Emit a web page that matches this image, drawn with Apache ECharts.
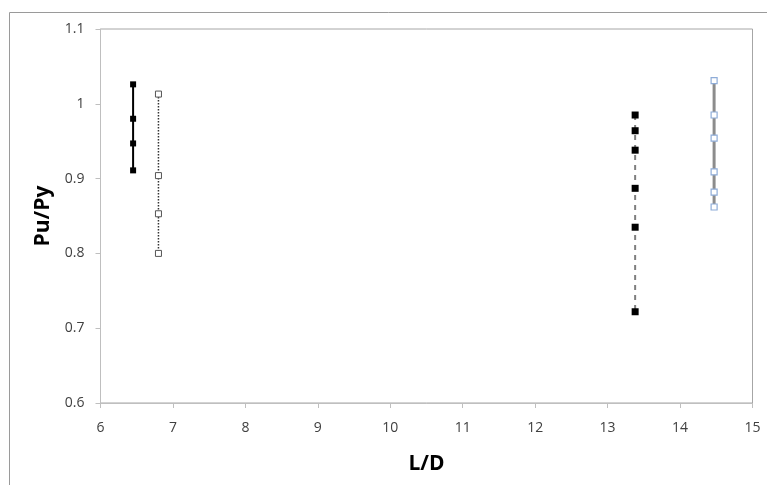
<!DOCTYPE html>
<html>
<head>
<meta charset="utf-8">
<script src="https://cdn.jsdelivr.net/npm/echarts@6/dist/echarts.min.js"></script>
<style>
  html, body { margin: 0; padding: 0; background: #ffffff; }
  #chart { width: 767px; height: 485px; }
</style>
</head>
<body>
<div id="chart"></div>
<script>
// L/D positions and Pu/Py values for each specimen group
const groupAX = 6.45;
const groupAY = [1.026, 0.980, 0.947, 0.911];

const groupBX = 6.80;
const groupBY = [1.013, 0.904, 0.853, 0.800];

const groupCX = 13.38;
const groupCY = [0.985, 0.964, 0.938, 0.887, 0.835, 0.722];

const groupDX = 14.47;
const groupDY = [1.031, 0.985, 0.954, 0.909, 0.882, 0.862];

const xTicks = [6, 7, 8, 9, 10, 11, 12, 13, 14, 15];
const yTicks = [0.6, 0.7, 0.8, 0.9, 1.0, 1.1];

function pairs(x, ys) { return ys.map(v => [x, v]); }

const labelFont = 'Open Sans, "Liberation Sans", sans-serif';
const axisGray = '#bfbfbf';

const chart = echarts.init(document.getElementById('chart'), null, { renderer: 'canvas' });

chart.setOption({
  animation: false,
  backgroundColor: '#ffffff',
  grid: {
    left: 100.5, right: 14.5, top: 29, bottom: 82,
    show: true, borderColor: '#a6a6a6', borderWidth: 1, backgroundColor: 'transparent'
  },
  graphic: [
    { type: 'line', shape: { x1: 9.5, y1: 12.5, x2: 767, y2: 12.5 }, style: { stroke: '#9a9a9a', lineWidth: 1 } },
    { type: 'line', shape: { x1: 9.5, y1: 12.5, x2: 9.5, y2: 485 }, style: { stroke: '#9a9a9a', lineWidth: 1 } }
  ],
  xAxis: {
    type: 'value',
    min: xTicks[0], max: xTicks[xTicks.length - 1], interval: 1,
    name: 'L/D', nameLocation: 'middle', nameGap: 51,
    nameTextStyle: { fontFamily: labelFont, fontWeight: 'bold', fontSize: 21, color: '#000000' },
    axisLine: { show: true, lineStyle: { color: axisGray, width: 1 } },
    axisTick: { show: true, length: 5, lineStyle: { color: axisGray } },
    axisLabel: { margin: 18, fontFamily: labelFont, fontSize: 14, color: '#404040' },
    splitLine: { show: false }
  },
  yAxis: {
    type: 'value',
    min: yTicks[0], max: yTicks[yTicks.length - 1], interval: 0.1,
    name: 'Pu/Py', nameLocation: 'middle', nameGap: 43, nameRotate: 90,
    nameTextStyle: { fontFamily: labelFont, fontWeight: 'bold', fontSize: 21, color: '#000000' },
    axisLine: { show: true, lineStyle: { color: axisGray, width: 1 } },
    axisTick: { show: true, length: 5, lineStyle: { color: axisGray } },
    axisLabel: {
      margin: 16, fontFamily: labelFont, fontSize: 14, color: '#404040',
      formatter: v => String(Math.round(v * 10) / 10)
    },
    splitLine: { show: false }
  },
  series: [
    {
      type: 'line', data: pairs(groupAX, groupAY),
      symbol: 'rect', symbolSize: 6,
      lineStyle: { color: '#000000', width: 2, type: 'solid' },
      itemStyle: { color: '#000000', borderColor: '#000000', borderWidth: 0 }
    },
    {
      type: 'line', data: pairs(groupBX, groupBY),
      symbol: 'rect', symbolSize: 6,
      lineStyle: { color: '#333333', width: 1.5, type: [1.5, 1.5] },
      itemStyle: { color: '#ffffff', borderColor: '#555555', borderWidth: 1 }
    },
    {
      type: 'line', data: pairs(groupCX, groupCY),
      symbol: 'rect', symbolSize: 7,
      lineStyle: { color: '#7f7f7f', width: 2, type: [5, 5] },
      itemStyle: { color: '#000000', borderColor: '#000000', borderWidth: 0 }
    },
    {
      type: 'line', data: pairs(groupDX, groupDY),
      symbol: 'rect', symbolSize: 6,
      lineStyle: { color: '#8c8c8c', width: 3, type: 'solid' },
      itemStyle: { color: '#ffffff', borderColor: '#8eacd8', borderWidth: 1.2 }
    }
  ]
});
</script>
</body>
</html>
